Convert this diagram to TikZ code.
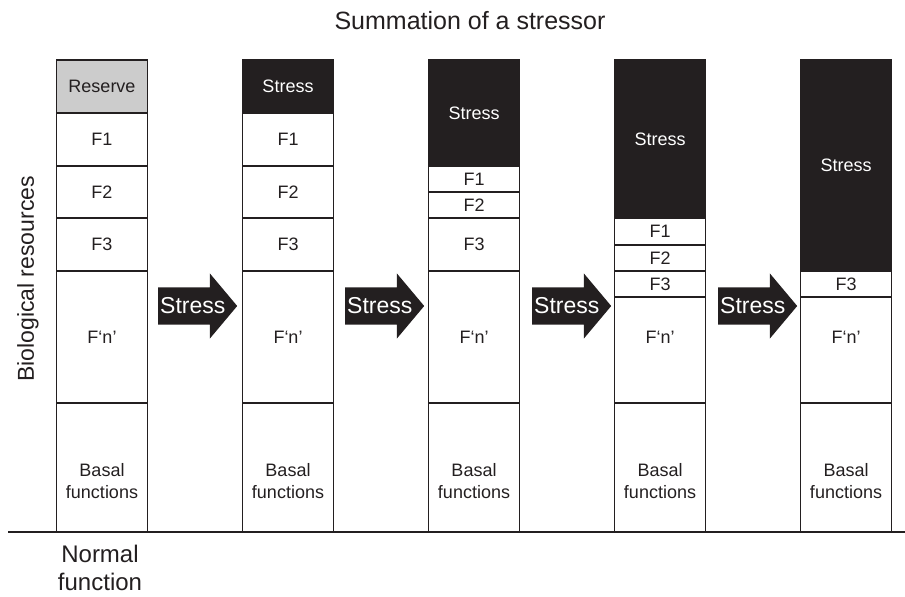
\documentclass[tikz,border=0pt]{standalone}
\usepackage{fontspec}
\setmainfont{Liberation Sans}
\usepackage{tikz}
\usetikzlibrary{positioning,   % placement relatif
           shapes.arrows}      % fleches pleines
\definecolor{ink}{HTML}{231F20}
\tikzset{
  seg/.style={draw=ink, line width=1.3bp, minimum width=91bp, inner sep=0pt, outer sep=0pt, text=ink, align=center},
  stressbox/.style={seg, fill=ink, text=white},
  reservebox/.style={seg, fill=black!20},
  txt/.style={text=ink, align=center, inner sep=0pt},
  stressarrow/.style={single arrow, fill=ink, draw=none, minimum height=79bp, text height=15bp, text depth=15bp, inner sep=3.5bp, single arrow head extend=14bp, single arrow tip angle=100, anchor=tail},
  arrowtext/.style={text=white, font=\fontsize{23bp}{26bp}\selectfont, inner sep=2bp}
}

\begin{document}
\begin{tikzpicture}[x=1bp, y=-1bp, font=\fontsize{18bp}{22bp}\selectfont]
\useasboundingbox (0,0) rectangle (905,597);
\node[txt, font=\fontsize{25bp}{30bp}\selectfont](title) at (470,21){Summation of a stressor};
\node[txt, rotate=90, font=\fontsize{23bp}{28bp}\selectfont](ylab) at (28,279){Biological resources};
\coordinate (axl) at (8,532);
\coordinate (axr) at (905,532);
\draw[line width=1.3bp, ink](axl)--(axr);
% normal
\node[seg, minimum height=129bp, anchor=south, label={[txt, yshift=-14bp]center:Basal\\functions}](b1) at (102,532){};
\node[seg, minimum height=132bp, above=0pt of b1](n1){F‘n’};
\node[seg, minimum height=53bp, above=0pt of n1](f31){F3};
\node[seg, minimum height=52bp, above=0pt of f31](f21){F2};
\node[seg, minimum height=53bp, above=0pt of f21](f11){F1};
\node[reservebox, minimum height=53bp, above=0pt of f11](r1){Reserve};
\node[txt, font=\fontsize{24bp}{28bp}\selectfont](nf) at (100,568){Normal\\function};
% 2
\node[seg, minimum height=129bp, right=95bp of b1, label={[txt, yshift=-14bp]center:Basal\\functions}](b2){};
\node[seg, minimum height=132bp, above=0pt of b2](n2){F‘n’};
\node[seg, minimum height=53bp, above=0pt of n2](f32){F3};
\node[seg, minimum height=52bp, above=0pt of f32](f22){F2};
\node[seg, minimum height=53bp, above=0pt of f22](f12){F1};
\node[stressbox, minimum height=53bp, above=0pt of f12](s2){Stress};
% 3
\node[seg, minimum height=129bp, right=95bp of b2, label={[txt, yshift=-14bp]center:Basal\\functions}](b3){};
\node[seg, minimum height=132bp, above=0pt of b3](n3){F‘n’};
\node[seg, minimum height=53bp, above=0pt of n3](f33){F3};
\node[seg, minimum height=26bp, above=0pt of f33](f23){F2};
\node[seg, minimum height=26bp, above=0pt of f23](f13){F1};
\node[stressbox, minimum height=106bp, above=0pt of f13](s3){Stress};
% 4
\node[seg, minimum height=129bp, right=95bp of b3, label={[txt, yshift=-14bp]center:Basal\\functions}](b4){};
\node[seg, minimum height=106bp, above=0pt of b4, label={[txt, yshift=13bp]center:F‘n’}](n4){};
\node[seg, minimum height=26bp, above=0pt of n4](f34){F3};
\node[seg, minimum height=26bp, above=0pt of f34](f24){F2};
\node[seg, minimum height=27bp, above=0pt of f24](f14){F1};
\node[stressbox, minimum height=158bp, above=0pt of f14](s4){Stress};
% 5
\node[seg, minimum height=129bp, right=95bp of b4, label={[txt, yshift=-14bp]center:Basal\\functions}](b5){};
\node[seg, minimum height=106bp, above=0pt of b5, label={[txt, yshift=13bp]center:F‘n’}](n5){};
\node[seg, minimum height=26bp, above=0pt of n5](f35){F3};
\node[stressbox, minimum height=211bp, above=0pt of f35](s5){Stress};
% fleches
\node[stressarrow](a1) at (158,306){};
\node[arrowtext, right=0pt of a1.tail](t1){Stress};
\node[stressarrow](a2) at (345,306){};
\node[arrowtext, right=0pt of a2.tail](t2){Stress};
\node[stressarrow](a3) at (532,306){};
\node[arrowtext, right=0pt of a3.tail](t3){Stress};
\node[stressarrow](a4) at (718,306){};
\node[arrowtext, right=0pt of a4.tail](t4){Stress};
\end{tikzpicture}
\end{document}
